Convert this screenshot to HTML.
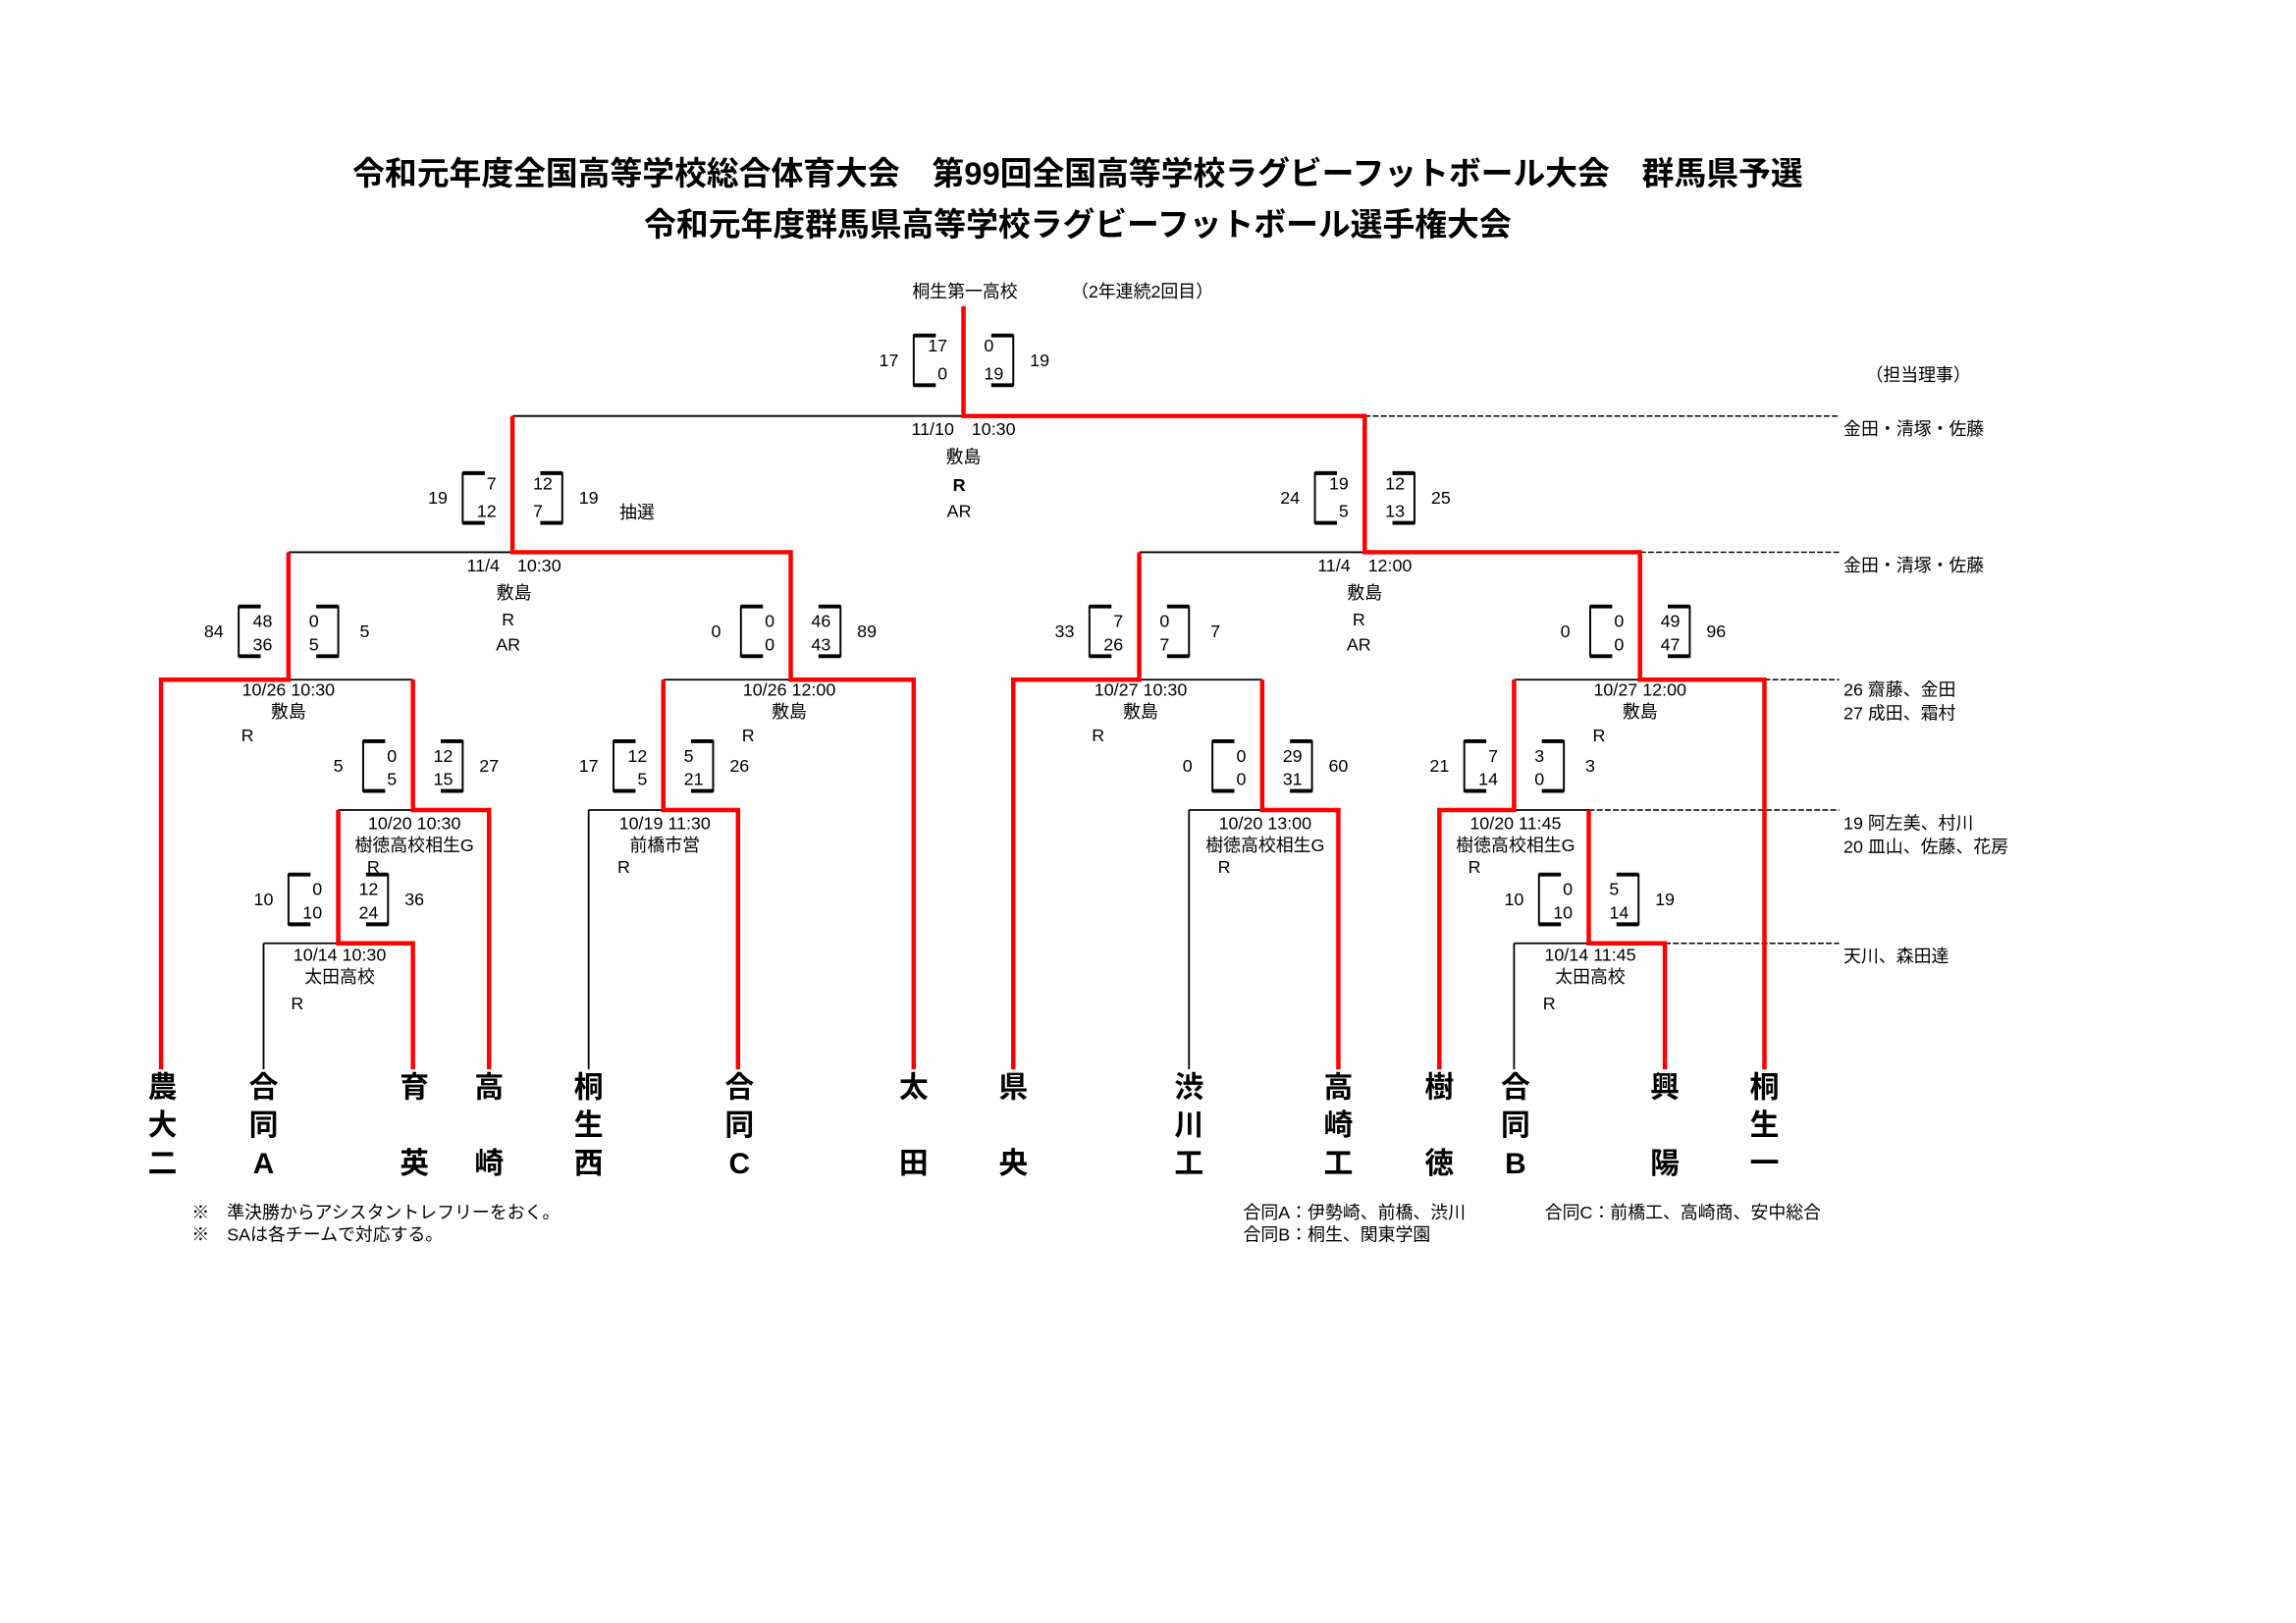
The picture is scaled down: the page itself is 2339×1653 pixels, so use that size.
<!DOCTYPE html>
<html><head><meta charset="utf-8"><style>
html,body{margin:0;padding:0;background:#fff}
svg{display:block}
text{font-family:"Liberation Sans","Noto Sans CJK JP",sans-serif;font-size:12px;fill:#000}
.c{text-anchor:middle}.e{text-anchor:end}
.t{font-size:22px;font-weight:bold;text-anchor:middle}
.n{font-size:20px;font-weight:bold;text-anchor:middle}
.r{stroke:#f00;stroke-width:3;fill:none}
.k{stroke:#000;stroke-width:1.2;fill:none}
.d{stroke:#000;stroke-width:1;stroke-dasharray:4 1.5;fill:none}
.b{stroke:#000;stroke-width:1.3;fill:none}
.bt{stroke:#000;stroke-width:2.6;fill:none}
</style></head><body>
<svg width="2339" height="1653" viewBox="0 0 1568 1108" preserveAspectRatio="none" xmlns="http://www.w3.org/2000/svg">
<defs>
<g id="br"><path class="b" d="M-19,-17H-34V17H-19M19,-17H34V17H19"/><path class="bt" d="M-34,-17H-19M-34,17H-19M19,-17H34M19,17H34"/></g>
</defs>
<text class="t" x="736" y="126">令和元年度全国高等学校総合体育大会　第99回全国高等学校ラグビーフットボール大会　群馬県予選</text>
<text class="t" x="736" y="161">令和元年度群馬県高等学校ラグビーフットボール選手権大会</text>
<text class="c" x="659" y="203">桐生第一高校</text>
<text class="c" x="780" y="203">（2年連続2回目）</text>
<text class="c" x="1310" y="260">（担当理事）</text>

<path class="k" d="M350,284H658 M197,377H350 M778,377H932 M197,464H282 M453,464H540 M778,464H862 M1034,464H1120 M231,553H282 M402,553H453 M402,553V730 M812,553H862 M812,553V730 M1034,553H1085 M180,644H231 M180,644V730 M1034,644H1085 M1034,644V730"/>
<path class="d" d="M932,284H1256 M1120,377H1256 M1205,464H1256 M1085,553H1256 M1137,644H1256"/>
<path class="r" d="M658,209V284H932V377H1120V464H1205V730 M350,284V377H540V464H624V730 M197,377V464H110V730 M282,464V553H334V730 M231,553V644H282V730 M453,464V553H504V730 M778,377V464H692V730 M862,464V553H914V730 M1034,464V553H983V730 M1085,553V644H1137V730"/>

<g transform="translate(658,246)"><use href="#br"/><text class="e" x="-11" y="-6">17</text><text class="e" x="-11" y="13">0</text><text x="14" y="-6">0</text><text x="14" y="13">19</text><text class="c" x="-51" y="4">17</text><text class="c" x="52" y="4">19</text></g>
<g transform="translate(350,340)"><use href="#br"/><text class="e" x="-11" y="-6">7</text><text class="e" x="-11" y="13">12</text><text x="14" y="-6">12</text><text x="14" y="13">7</text><text class="c" x="-51" y="4">19</text><text class="c" x="52" y="4">19</text></g>
<text class="c" x="435" y="354">抽選</text>
<g transform="translate(932,340)"><use href="#br"/><text class="e" x="-11" y="-6">19</text><text class="e" x="-11" y="13">5</text><text x="14" y="-6">12</text><text x="14" y="13">13</text><text class="c" x="-51" y="4">24</text><text class="c" x="52" y="4">25</text></g>
<g transform="translate(197,431)"><use href="#br"/><text class="e" x="-11" y="-3">48</text><text class="e" x="-11" y="13">36</text><text x="14" y="-3">0</text><text x="14" y="13">5</text><text class="c" x="-51" y="4">84</text><text class="c" x="52" y="4">5</text></g>
<g transform="translate(540,431)"><use href="#br"/><text class="e" x="-11" y="-3">0</text><text class="e" x="-11" y="13">0</text><text x="14" y="-3">46</text><text x="14" y="13">43</text><text class="c" x="-51" y="4">0</text><text class="c" x="52" y="4">89</text></g>
<g transform="translate(778,431)"><use href="#br"/><text class="e" x="-11" y="-3">7</text><text class="e" x="-11" y="13">26</text><text x="14" y="-3">0</text><text x="14" y="13">7</text><text class="c" x="-51" y="4">33</text><text class="c" x="52" y="4">7</text></g>
<g transform="translate(1120,431)"><use href="#br"/><text class="e" x="-11" y="-3">0</text><text class="e" x="-11" y="13">0</text><text x="14" y="-3">49</text><text x="14" y="13">47</text><text class="c" x="-51" y="4">0</text><text class="c" x="52" y="4">96</text></g>
<g transform="translate(282,523)"><use href="#br"/><text class="e" x="-11" y="-3">0</text><text class="e" x="-11" y="13">5</text><text x="14" y="-3">12</text><text x="14" y="13">15</text><text class="c" x="-51" y="4">5</text><text class="c" x="52" y="4">27</text></g>
<g transform="translate(453,523)"><use href="#br"/><text class="e" x="-11" y="-3">12</text><text class="e" x="-11" y="13">5</text><text x="14" y="-3">5</text><text x="14" y="13">21</text><text class="c" x="-51" y="4">17</text><text class="c" x="52" y="4">26</text></g>
<g transform="translate(862,523)"><use href="#br"/><text class="e" x="-11" y="-3">0</text><text class="e" x="-11" y="13">0</text><text x="14" y="-3">29</text><text x="14" y="13">31</text><text class="c" x="-51" y="4">0</text><text class="c" x="52" y="4">60</text></g>
<g transform="translate(1034,523)"><use href="#br"/><text class="e" x="-11" y="-3">7</text><text class="e" x="-11" y="13">14</text><text x="14" y="-3">3</text><text x="14" y="13">0</text><text class="c" x="-51" y="4">21</text><text class="c" x="52" y="4">3</text></g>
<g transform="translate(231,614)"><use href="#br"/><text class="e" x="-11" y="-3">0</text><text class="e" x="-11" y="13">10</text><text x="14" y="-3">12</text><text x="14" y="13">24</text><text class="c" x="-51" y="4">10</text><text class="c" x="52" y="4">36</text></g>
<g transform="translate(1085,614)"><use href="#br"/><text class="e" x="-11" y="-3">0</text><text class="e" x="-11" y="13">10</text><text x="14" y="-3">5</text><text x="14" y="13">14</text><text class="c" x="-51" y="4">10</text><text class="c" x="52" y="4">19</text></g>

<text class="c" x="658" y="297">11/10　10:30</text><text class="c" x="658" y="316">敷島</text><text class="c" x="655" y="335" font-weight="bold">R</text><text class="c" x="655" y="353">AR</text>
<text class="c" x="351" y="390">11/4　10:30</text><text class="c" x="351" y="409">敷島</text><text class="c" x="347" y="427">R</text><text class="c" x="347" y="444">AR</text>
<text class="c" x="932" y="390">11/4　12:00</text><text class="c" x="932" y="409">敷島</text><text class="c" x="928" y="427">R</text><text class="c" x="928" y="444">AR</text>
<text class="c" x="197" y="475">10/26 10:30</text><text class="c" x="197" y="490">敷島</text><text class="c" x="169" y="506">R</text>
<text class="c" x="539" y="475">10/26 12:00</text><text class="c" x="539" y="490">敷島</text><text class="c" x="511" y="506">R</text>
<text class="c" x="779" y="475">10/27 10:30</text><text class="c" x="779" y="490">敷島</text><text class="c" x="750" y="506">R</text>
<text class="c" x="1120" y="475">10/27 12:00</text><text class="c" x="1120" y="490">敷島</text><text class="c" x="1092" y="506">R</text>
<text class="c" x="283" y="566">10/20 10:30</text><text class="c" x="283" y="581">樹徳高校相生G</text><text class="c" x="255" y="596">R</text>
<text class="c" x="454" y="566">10/19 11:30</text><text class="c" x="454" y="581">前橋市営</text><text class="c" x="426" y="596">R</text>
<text class="c" x="864" y="566">10/20 13:00</text><text class="c" x="864" y="581">樹徳高校相生G</text><text class="c" x="836" y="596">R</text>
<text class="c" x="1035" y="566">10/20 11:45</text><text class="c" x="1035" y="581">樹徳高校相生G</text><text class="c" x="1007" y="596">R</text>
<text class="c" x="232" y="656">10/14 10:30</text><text class="c" x="232" y="671">太田高校</text><text class="c" x="203" y="689">R</text>
<text class="c" x="1086" y="656">10/14 11:45</text><text class="c" x="1086" y="671">太田高校</text><text class="c" x="1058" y="689">R</text>

<text x="1259" y="297">金田・清塚・佐藤</text>
<text x="1259" y="390">金田・清塚・佐藤</text>
<text x="1259" y="475">26 齋藤、金田</text><text x="1259" y="491">27 成田、霜村</text>
<text x="1259" y="566">19 阿左美、村川</text><text x="1259" y="582">20 皿山、佐藤、花房</text>
<text x="1259" y="657">天川、森田達</text>

<text class="n" x="111" y="749">農</text><text class="n" x="111" y="775">大</text><text class="n" x="111" y="801">二</text>
<text class="n" x="180" y="749">合</text><text class="n" x="180" y="775">同</text><text class="n" x="180" y="801">A</text>
<text class="n" x="283" y="749">育</text><text class="n" x="283" y="801">英</text>
<text class="n" x="334" y="749">高</text><text class="n" x="334" y="801">崎</text>
<text class="n" x="402" y="749">桐</text><text class="n" x="402" y="775">生</text><text class="n" x="402" y="801">西</text>
<text class="n" x="505" y="749">合</text><text class="n" x="505" y="775">同</text><text class="n" x="505" y="801">C</text>
<text class="n" x="624" y="749">太</text><text class="n" x="624" y="801">田</text>
<text class="n" x="692" y="749">県</text><text class="n" x="692" y="801">央</text>
<text class="n" x="812" y="749">渋</text><text class="n" x="812" y="775">川</text><text class="n" x="812" y="801">工</text>
<text class="n" x="914" y="749">高</text><text class="n" x="914" y="775">崎</text><text class="n" x="914" y="801">工</text>
<text class="n" x="983" y="749">樹</text><text class="n" x="983" y="801">徳</text>
<text class="n" x="1035" y="749">合</text><text class="n" x="1035" y="775">同</text><text class="n" x="1035" y="801">B</text>
<text class="n" x="1137" y="749">興</text><text class="n" x="1137" y="801">陽</text>
<text class="n" x="1205" y="749">桐</text><text class="n" x="1205" y="775">生</text><text class="n" x="1205" y="801">一</text>

<text x="131" y="832">※　準決勝からアシスタントレフリーをおく。</text>
<text x="131" y="847">※　SAは各チームで対応する。</text>
<text x="849" y="832">合同A：伊勢崎、前橋、渋川</text>
<text x="849" y="847">合同B：桐生、関東学園</text>
<text x="1055" y="832">合同C：前橋工、高崎商、安中総合</text>
</svg>
</body></html>
